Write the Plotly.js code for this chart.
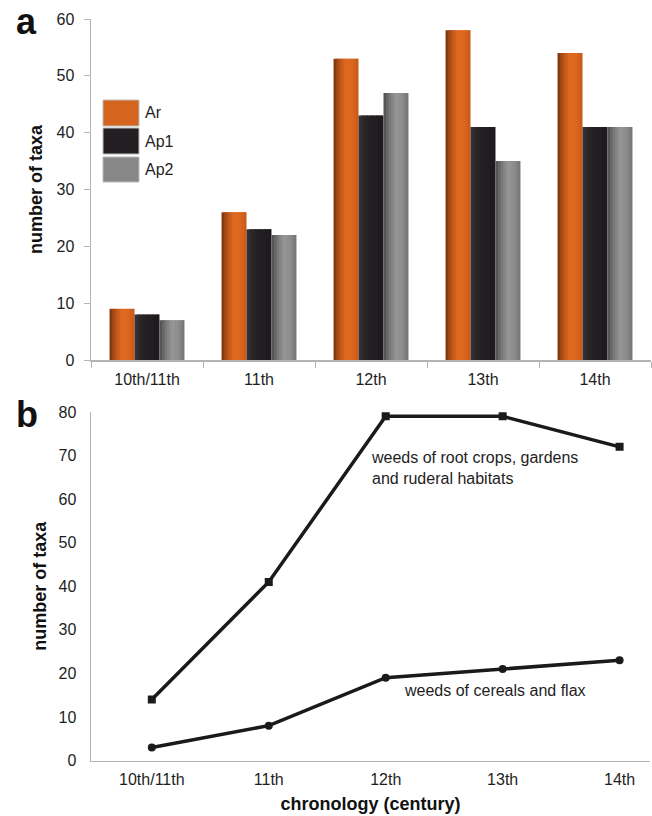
<!DOCTYPE html>
<html>
<head>
<meta charset="utf-8">
<script src="https://cdn.plot.ly/plotly-3.0.1.min.js"></script>
<style>
  html, body { margin: 0; padding: 0; background: #ffffff; }
  #chart { width: 652px; height: 816px; }
</style>
</head>
<body>
<div id="chart"></div>
<script>
// ---------- data ----------
const categories = ['10th/11th', '11th', '12th', '13th', '14th'];
const seriesNames = ['Ar', 'Ap1', 'Ap2'];
const arValues  = [9, 26, 53, 58, 54];
const ap1Values = [8, 23, 43, 41, 41];
const ap2Values = [7, 22, 47, 35, 41];
const rootCropsValues = [14, 41, 79, 79, 72];
const cerealsValues   = [3, 8, 19, 21, 23];
const rootCropsLabel = 'weeds of root crops, gardens<br>and ruderal habitats';
const cerealsLabel = 'weeds of cereals and flax';

// ---------- styles ----------
const W = 652, H = 816;
const FONT = 'Liberation Sans, Arial, sans-serif';
const TXT = '#1e1e1e';
const AXIS = '#b4b4b4';
const seriesStops = [
  ['#7a3410', '#b8541a', '#e06b20', '#dc661d', '#c45a1a'],
  ['#3a3437', '#2a2528', '#221e21', '#201c1f', '#1c181b'],
  ['#4e4e4e', '#777777', '#979797', '#8c8c8c', '#727272']
];
const seriesMain = ['#d5651e', '#221e21', '#888888'];
const seriesValues = [arValues, ap1Values, ap2Values];

function hex(c) { return [1,3,5].map(i => parseInt(c.substr(i,2),16)); }
function lerpColor(stops, t) {
  const p = t * (stops.length - 1);
  const i = Math.min(Math.floor(p), stops.length - 2);
  const f = p - i;
  const a = hex(stops[i]), b = hex(stops[i+1]);
  const r = a.map((v,k) => Math.round(v + (b[k]-v)*f));
  return 'rgb(' + r.join(',') + ')';
}

const barW = 0.223;           // width of one bar in category units
const nStrips = 10;           // strips to imitate cylinder shading
const stripW = barW / nStrips;
const groupStart = -1.5 * barW;

const traces = [];
seriesValues.forEach((vals, k) => {
  for (let j = 0; j < nStrips; j++) {
    const last = (j === nStrips - 1);
    traces.push({
      type: 'bar',
      x: categories,
      y: vals,
      xaxis: 'x', yaxis: 'y',
      width: last ? stripW : stripW * 1.8,
      offset: groupStart + k * barW + j * stripW,
      marker: { color: lerpColor(seriesStops[k], (j + 0.5) / nStrips), line: { width: 0 } },
      name: seriesNames[k],
      showlegend: false,
      hoverinfo: 'skip'
    });
  }
});

traces.push({
  type: 'scatter', mode: 'lines+markers',
  x: categories, y: rootCropsValues,
  xaxis: 'x2', yaxis: 'y2',
  line: { color: '#1a1a1a', width: 3.5 },
  marker: { symbol: 'square', size: 8, color: '#1a1a1a' },
  showlegend: false, name: 'root crops'
});
traces.push({
  type: 'scatter', mode: 'lines+markers',
  x: categories, y: cerealsValues,
  xaxis: 'x2', yaxis: 'y2',
  line: { color: '#1a1a1a', width: 3.5 },
  marker: { symbol: 'circle', size: 8, color: '#1a1a1a' },
  showlegend: false, name: 'cereals'
});

const px = v => v / W;
const py = v => 1 - v / H;

// legend (drawn as boxes + labels)
const legendBoxes = [[100, 126], [128, 154], [157, 182]];
const shapes = legendBoxes.map((b, k) => ({
  type: 'rect', xref: 'paper', yref: 'paper',
  x0: px(103), x1: px(139), y0: py(b[1]), y1: py(b[0]),
  fillcolor: seriesMain[k], line: { color: '#bbbbbb', width: 1 }
}));

const annotations = [
  { text: '<b>a</b>', xref: 'paper', yref: 'paper', x: px(14), y: py(44), xanchor: 'left', yanchor: 'bottom',
    showarrow: false, font: { family: FONT, size: 36, color: '#111' } },
  { text: '<b>b</b>', xref: 'paper', yref: 'paper', x: px(14), y: py(437), xanchor: 'left', yanchor: 'bottom',
    showarrow: false, font: { family: FONT, size: 36, color: '#111' } },
  { text: rootCropsLabel, xref: 'x2', yref: 'paper', x: categories[2], xshift: -17, y: py(447), xanchor: 'left', yanchor: 'top',
    align: 'left', showarrow: false, font: { family: FONT, size: 16, color: TXT } },
  { text: cerealsLabel, xref: 'x2', yref: 'paper', x: categories[2], xshift: 16, y: py(680), xanchor: 'left', yanchor: 'top',
    align: 'left', showarrow: false, font: { family: FONT, size: 16, color: TXT } }
];
legendBoxes.forEach((b, k) => {
  annotations.push({
    text: seriesNames[k], xref: 'paper', yref: 'paper', x: px(143), y: py((b[0] + b[1]) / 2),
    xanchor: 'left', yanchor: 'middle', showarrow: false,
    font: { family: FONT, size: 16, color: TXT }
  });
});

const layout = {
  width: W, height: H,
  margin: { l: 0, r: 0, t: 0, b: 0 },
  paper_bgcolor: '#ffffff', plot_bgcolor: '#ffffff',
  font: { family: FONT, size: 16, color: TXT },
  barmode: 'overlay',
  showlegend: false,
  xaxis: {
    domain: [px(91), px(651)], anchor: 'y',
    type: 'category', range: [-0.5, 4.5],
    showline: true, linecolor: AXIS, linewidth: 1.5,
    ticks: 'outside', tickson: 'boundaries', ticklen: 6, tickcolor: AXIS,
    ticklabelstandoff: 4,
    showgrid: false, zeroline: false,
    tickfont: { family: FONT, size: 16, color: TXT }
  },
  yaxis: {
    domain: [py(360), py(19)], anchor: 'x',
    range: [0, 60], dtick: 10,
    showline: true, linecolor: AXIS, linewidth: 1.5,
    ticks: 'outside', ticklen: 6, tickcolor: AXIS,
    ticklabelstandoff: 6,
    showgrid: false, zeroline: false,
    tickfont: { family: FONT, size: 16, color: TXT },
    title: { text: '<b>number of taxa</b>', font: { family: FONT, size: 18, color: '#111' }, standoff: 9 }
  },
  xaxis2: {
    domain: [px(91), px(650)], anchor: 'y2',
    type: 'category', range: [-0.52, 4.26],
    showline: true, linecolor: AXIS, linewidth: 1.5,
    ticks: '', showgrid: false, zeroline: false,
    ticklabelstandoff: 4,
    tickfont: { family: FONT, size: 16, color: TXT },
    title: { text: '<b>chronology (century)</b>', font: { family: FONT, size: 18, color: '#111' }, standoff: 10 }
  },
  yaxis2: {
    domain: [py(760.5), py(412)], anchor: 'x2',
    range: [0, 80], dtick: 10,
    showline: true, linecolor: AXIS, linewidth: 1.5,
    ticks: '', showgrid: false, zeroline: false,
    ticklabelstandoff: 10,
    tickfont: { family: FONT, size: 16, color: TXT },
    title: { text: '<b>number of taxa</b>', font: { family: FONT, size: 18, color: '#111' }, standoff: 7 }
  },
  shapes: shapes,
  annotations: annotations
};

Plotly.newPlot('chart', traces, layout, { staticPlot: true, displayModeBar: false });
</script>
</body>
</html>
